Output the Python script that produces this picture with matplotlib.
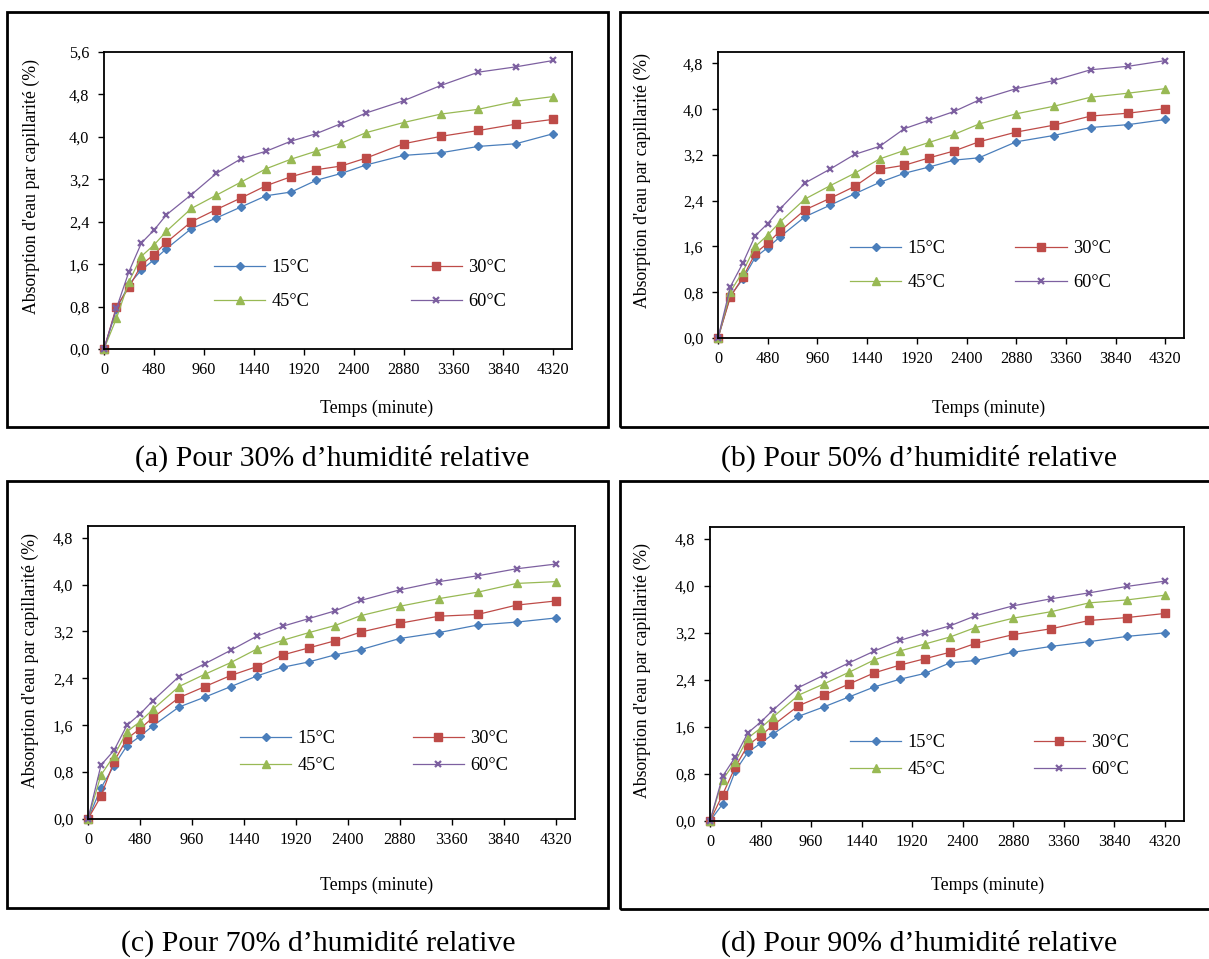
import matplotlib
matplotlib.use("Agg")
import matplotlib.pyplot as plt
from matplotlib.patches import Rectangle
from matplotlib.ticker import FuncFormatter

plt.rcParams['font.family'] = ['Liberation Serif', 'DejaVu Serif']

# Temps de mesure (minutes)
temps = [0, 120, 240, 360, 480, 600, 840, 1080, 1320, 1560, 1800, 2040,
         2280, 2520, 2880, 3240, 3600, 3960, 4320]

temperatures = ["15°C", "30°C", "45°C", "60°C"]

# (a) 30 % HR
hr30_15 = [0, 0.75, 1.22, 1.49, 1.68, 1.89, 2.27, 2.47, 2.68, 2.89, 2.96, 3.18,
           3.31, 3.47, 3.65, 3.70, 3.82, 3.87, 4.06]
hr30_30 = [0, 0.80, 1.16, 1.59, 1.78, 2.01, 2.40, 2.63, 2.85, 3.08, 3.25, 3.38,
           3.45, 3.60, 3.87, 4.01, 4.12, 4.24, 4.33]
hr30_45 = [0, 0.58, 1.27, 1.75, 1.96, 2.22, 2.65, 2.90, 3.15, 3.40, 3.58, 3.73,
           3.88, 4.08, 4.27, 4.43, 4.52, 4.67, 4.76]
hr30_60 = [0, 0.77, 1.46, 2.00, 2.24, 2.53, 2.91, 3.31, 3.59, 3.73, 3.92, 4.06,
           4.25, 4.45, 4.68, 4.97, 5.22, 5.32, 5.44]

# (b) 50 % HR
hr50_15 = [0, 0.74, 1.03, 1.41, 1.58, 1.77, 2.12, 2.32, 2.52, 2.72, 2.88, 2.99,
           3.11, 3.15, 3.43, 3.54, 3.68, 3.73, 3.82]
hr50_30 = [0, 0.72, 1.06, 1.48, 1.66, 1.87, 2.24, 2.44, 2.65, 2.95, 3.02, 3.15,
           3.27, 3.43, 3.60, 3.72, 3.88, 3.93, 4.01]
hr50_45 = [0, 0.81, 1.16, 1.60, 1.80, 2.03, 2.43, 2.66, 2.88, 3.13, 3.28, 3.42,
           3.56, 3.74, 3.92, 4.05, 4.21, 4.28, 4.36]
hr50_60 = [0, 0.90, 1.31, 1.79, 2.00, 2.26, 2.71, 2.95, 3.21, 3.35, 3.66, 3.81,
           3.96, 4.16, 4.36, 4.50, 4.69, 4.75, 4.85]

# (c) 70 % HR
hr70_15 = [0, 0.53, 0.91, 1.25, 1.41, 1.59, 1.91, 2.08, 2.26, 2.44, 2.59, 2.68,
           2.80, 2.89, 3.08, 3.18, 3.31, 3.36, 3.43]
hr70_30 = [0, 0.39, 0.98, 1.37, 1.54, 1.73, 2.07, 2.26, 2.45, 2.60, 2.80, 2.92,
           3.04, 3.19, 3.34, 3.46, 3.49, 3.65, 3.72]
hr70_45 = [0, 0.75, 1.08, 1.49, 1.66, 1.87, 2.26, 2.47, 2.67, 2.90, 3.05, 3.18,
           3.30, 3.47, 3.63, 3.76, 3.87, 4.02, 4.05]
hr70_60 = [0, 0.92, 1.17, 1.60, 1.79, 2.02, 2.43, 2.65, 2.88, 3.12, 3.29, 3.42,
           3.55, 3.73, 3.91, 4.05, 4.15, 4.27, 4.35]

# (d) 90 % HR
hr90_15 = [0, 0.29, 0.85, 1.17, 1.32, 1.48, 1.78, 1.94, 2.11, 2.28, 2.41, 2.51,
           2.69, 2.73, 2.87, 2.97, 3.05, 3.14, 3.20]
hr90_30 = [0, 0.45, 0.92, 1.29, 1.45, 1.63, 1.96, 2.14, 2.33, 2.52, 2.65, 2.76,
           2.87, 3.02, 3.17, 3.27, 3.41, 3.46, 3.53]
hr90_45 = [0, 0.70, 1.01, 1.41, 1.58, 1.77, 2.14, 2.33, 2.53, 2.74, 2.89, 3.01,
           3.13, 3.29, 3.45, 3.56, 3.71, 3.76, 3.84]
hr90_60 = [0, 0.76, 1.09, 1.50, 1.68, 1.89, 2.27, 2.48, 2.69, 2.89, 3.07, 3.20,
           3.32, 3.49, 3.66, 3.78, 3.88, 3.99, 4.08]

x_ticks = [0, 480, 960, 1440, 1920, 2400, 2880, 3360, 3840, 4320]

captions = ["(a) Pour 30% d\u2019humidité relative",
            "(b) Pour 50% d\u2019humidité relative",
            "(c) Pour 70% d\u2019humidité relative",
            "(d) Pour 90% d\u2019humidité relative"]

W, H = 1209, 959
fig = plt.figure(figsize=(W / 100, H / 100), dpi=100)
fig.patch.set_facecolor("white")


def frac_rect(left, right, top, bottom):
    return [left / W, 1 - bottom / H, (right - left) / W, (bottom - top) / H]


styles = [
    dict(color="#4A7EBB", marker="D", markersize=4.2, markerfacecolor="#4A7EBB",
         markeredgecolor="#4A7EBB"),
    dict(color="#BE4B48", marker="s", markersize=5.8, markerfacecolor="#BE4B48",
         markeredgecolor="#BE4B48"),
    dict(color="#98B954", marker="^", markersize=6.2, markerfacecolor="#98B954",
         markeredgecolor="#98B954"),
    dict(color="#7D60A0", marker="x", markersize=5.0, markeredgewidth=1.6),
]

panels = [
    dict(rect=(104, 572, 52, 349), ymax=5.6, yticks=[0, 0.8, 1.6, 2.4, 3.2, 4.0, 4.8, 5.6],
         series=[hr30_15, hr30_30, hr30_45, hr30_60],
         ylab=(31, 187), xlab=(377, 408), leg=(214, 259), colsp=5.5, labsp=0.95,
         box=(7, 608, 12, 427), cap=(332, 458)),
    dict(rect=(718, 1184, 52, 338), ymax=5.0, yticks=[0, 0.8, 1.6, 2.4, 3.2, 4.0, 4.8],
         series=[hr50_15, hr50_30, hr50_45, hr50_60],
         ylab=(642, 180), xlab=(989, 408), leg=(850, 240), colsp=3.8, labsp=0.95,
         box=(620, 1216, 12, 427), cap=(919, 458)),
    dict(rect=(88, 575, 526, 819), ymax=5.0, yticks=[0, 0.8, 1.6, 2.4, 3.2, 4.0, 4.8],
         series=[hr70_15, hr70_30, hr70_45, hr70_60],
         ylab=(30, 661), xlab=(377, 885), leg=(240, 730), colsp=4.2, labsp=0.55,
         box=(7, 608, 481, 908), cap=(318, 943)),
    dict(rect=(710, 1184, 527, 821), ymax=5.0, yticks=[0, 0.8, 1.6, 2.4, 3.2, 4.0, 4.8],
         series=[hr90_15, hr90_30, hr90_45, hr90_60],
         ylab=(642, 670), xlab=(988, 885), leg=(850, 734), colsp=4.8, labsp=0.55,
         box=(620, 1216, 481, 909), cap=(919, 943)),
]

comma_fmt = FuncFormatter(lambda v, pos: f"{v:.1f}".replace(".", ","))

for i, p in enumerate(panels):
    # cadre extérieur du graphique
    bl, br, bt, bb = p["box"]
    fig.patches.append(Rectangle((bl / W, 1 - bb / H), (br - bl) / W, (bb - bt) / H,
                                 transform=fig.transFigure, fill=False,
                                 edgecolor="black", linewidth=2.0, zorder=0))

    ax = fig.add_axes(frac_rect(*p["rect"]))
    handles = []
    for vals, lab, st in zip(p["series"], temperatures, styles):
        h, = ax.plot(temps, vals, linewidth=0.9, label=lab, clip_on=False, **st)
        handles.append(h)

    ax.set_xlim(0, 4500)
    ax.set_ylim(0, p["ymax"])
    ax.set_xticks(x_ticks)
    ax.set_yticks(p["yticks"])
    ax.yaxis.set_major_formatter(comma_fmt)
    ax.tick_params(direction="out", length=4.5, width=1.0, labelsize=11.7,
                   colors="black")
    ax.tick_params(axis="x", pad=5)
    ax.tick_params(axis="y", pad=6)
    for s in ax.spines.values():
        s.set_linewidth(1.3)
        s.set_color("black")

    fig.text(p["ylab"][0] / W, 1 - p["ylab"][1] / H,
             "Absorption d'eau par capillarité (%)", rotation=90,
             ha="center", va="center", fontsize=12.8)
    fig.text(p["xlab"][0] / W, 1 - p["xlab"][1] / H, "Temps (minute)",
             ha="center", va="center", fontsize=12.8)

    order = [0, 2, 1, 3]
    lx, ly = p["leg"]
    ax.legend([handles[k] for k in order], [temperatures[k] for k in order],
              ncol=2, frameon=False, loc="upper left",
              bbox_to_anchor=(lx / W, 1 - ly / H), bbox_transform=fig.transFigure,
              borderpad=0, borderaxespad=0, handlelength=2.8, handletextpad=0.35,
              columnspacing=p["colsp"], labelspacing=p["labsp"], fontsize=13.2)

    fig.text(p["cap"][0] / W, 1 - p["cap"][1] / H, captions[i],
             ha="center", va="center", fontsize=21.5)

fig.savefig("out.png", dpi=100, facecolor="white")
